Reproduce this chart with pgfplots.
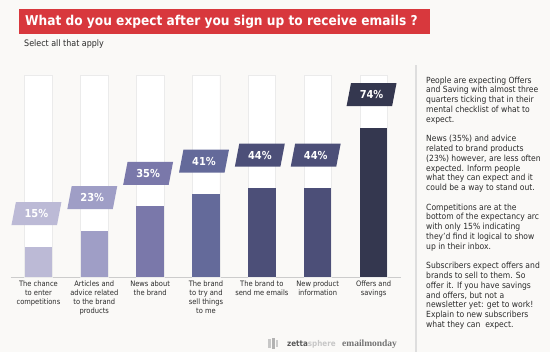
\documentclass[border=0pt]{standalone}
\usepackage{fontspec}
\setmainfont{DejaVu Sans}[FakeStretch=0.9]
\newfontfamily\logoserif{Liberation Serif}
\usepackage{pgfplots}
\pgfplotsset{compat=1.18}
\usetikzlibrary{shapes.geometric}
\definecolor{c1}{HTML}{BCBAD6}
\definecolor{c2}{HTML}{9F9EC6}
\definecolor{c3}{HTML}{7A78AA}
\definecolor{c4}{HTML}{646A9A}
\definecolor{c5}{HTML}{4C4F78}
\definecolor{c6}{HTML}{4C4F78}
\definecolor{c7}{HTML}{34374F}
\definecolor{titlered}{HTML}{D8383D}
\definecolor{bgc}{HTML}{FAF9F7}
\definecolor{txt}{HTML}{2A2A2A}
\tikzset{lbl/.style={trapezium, trapezium left angle=73, trapezium right angle=107,
  trapezium stretches=true, fill=#1, text=white,
  font=\bfseries\fontsize{11}{12}\selectfont,
  minimum width=50bp, minimum height=23bp, inner sep=0pt,
  anchor=center, yshift=33bp, xshift=-2bp}}
\begin{document}
\begin{tikzpicture}
\path[use as bounding box] (0,0) rectangle (550bp,352bp);
\begin{scope}[x=1bp,y=1bp]
\fill[bgc] (0,0) rectangle (550,352);
\fill[titlered] (19,317.7) rectangle (430,342.7);
\node[anchor=west, text=white, font=\bfseries\fontsize{13.6}{16}\selectfont, inner sep=0] at (25,330.2) {What do you expect after you sign up to receive emails ?};
\node[anchor=west, font=\fontsize{8.9}{10}\selectfont, inner sep=0, text=txt] at (24,308) {Select all that apply};
\draw[black!13, line width=1.5bp] (416,0) -- (416,287);
\node[anchor=north west, inner sep=0, align=left, font=\fontsize{8.5}{9.8}\selectfont, text=txt] at (426,275.5) {%
People are expecting Offers\\
and Saving with almost three\\
quarters ticking that in their\\
mental checklist of what to\\
expect.\\[9.8bp]
News (35\%) and advice\\
related to brand products\\
(23\%) however, are less often\\
expected. Inform people\\
what they can expect and it\\
could be a way to stand out.\\[9.8bp]
Competitions are at the\\
bottom of the expectancy arc\\
with only 15\% indicating\\
they’d find it logical to show\\
up in their inbox.\\[9.8bp]
Subscribers expect offers and\\
brands to sell to them. So\\
offer it. If you have savings\\
and offers, but not a\\
newsletter yet: get to work!\\
Explain to new subscribers\\
what they can\ \ expect.};
\fill[black!22] (268,4) rectangle (271,13);
\fill[black!30] (272,3) rectangle (275,14);
\fill[black!20] (276,5) rectangle (278,12);
\node[anchor=west, inner sep=0, font=\bfseries\fontsize{8}{9}\selectfont] at (287,8) {\textcolor{black!65}{zetta}\textcolor{black!22}{sphere}};
\node[anchor=west, inner sep=0, font=\logoserif\bfseries\fontsize{9.5}{10}\selectfont, text=black!55] at (342,8) {emailmonday};
\end{scope}
\begin{axis}[at={(10.5bp,75bp)}, anchor=south west, scale only axis,
  width=391bp, height=202bp, xmin=-0.5, xmax=6.5, ymin=0, ymax=100,
  clip=false, axis x line*=bottom, axis y line=none,
  x axis line style={-, draw=black!20, line width=0.8bp},
  ybar, bar width=27.5bp, bar shift=0pt,
  xtick={0,1,2,3,4,5,6}, major tick length=0pt,
  xticklabels={{The chance\\to enter\\competitions},{Articles and\\advice related\\to the brand\\products},{News about\\the brand},{The brand\\to try and\\sell things\\to me},{The brand to\\send me emails},{New product\\information},{Offers and\\savings}},
  xticklabel style={align=center, font=\fontsize{7.5}{9.1}\selectfont, text=txt},
  nodes near coords={\pgfmathprintnumber[assume math mode=true]{\pgfplotspointmeta}\%},
]
\addplot[fill=white, draw=black!8, nodes near coords={}] coordinates {(0,100) (1,100) (2,100) (3,100) (4,100) (5,100) (6,100)};
\addplot[fill=c1, draw=none, every node near coord/.append style={lbl=c1}] coordinates {(0,15)};
\addplot[fill=c2, draw=none, every node near coord/.append style={lbl=c2}] coordinates {(1,23)};
\addplot[fill=c3, draw=none, every node near coord/.append style={lbl=c3}] coordinates {(2,35)};
\addplot[fill=c4, draw=none, every node near coord/.append style={lbl=c4}] coordinates {(3,41)};
\addplot[fill=c5, draw=none, every node near coord/.append style={lbl=c5}] coordinates {(4,44)};
\addplot[fill=c6, draw=none, every node near coord/.append style={lbl=c6}] coordinates {(5,44)};
\addplot[fill=c7, draw=none, every node near coord/.append style={lbl=c7}] coordinates {(6,74)};
\end{axis}
\end{tikzpicture}
\end{document}
